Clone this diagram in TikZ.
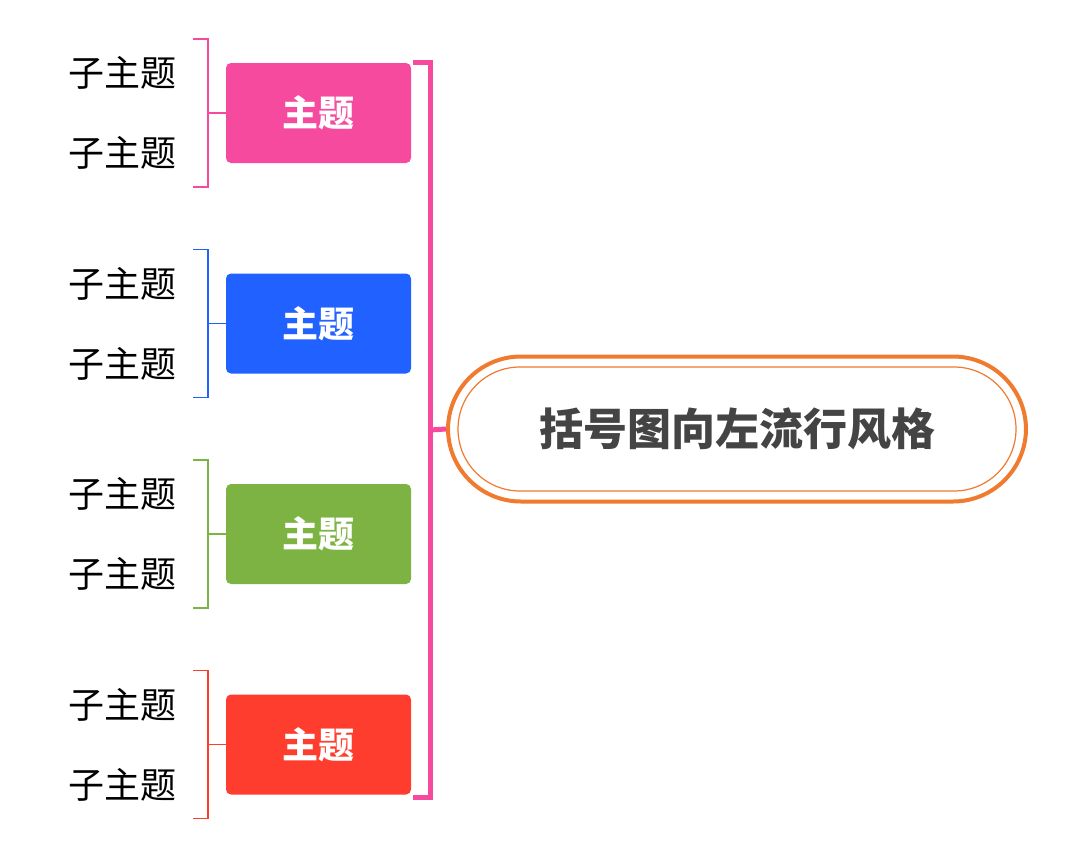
\documentclass[tikz,border=0pt]{standalone}
\usepackage{fontspec}
\setmainfont{Noto Sans CJK SC}
\definecolor{cpink}{HTML}{F64A9E}
\definecolor{cblue}{HTML}{2161FF}
\definecolor{cgreen}{HTML}{7DB342}
\definecolor{cred}{HTML}{FF3D2E}
\definecolor{corange}{HTML}{F07A2E}
\definecolor{cdark}{HTML}{444444}
\tikzset{
  topic/.style={fill=#1, rounded corners=5pt, minimum width=185pt, minimum height=100pt, inner sep=0pt, text=white, font=\fontsize{36}{40}\selectfont\bfseries},
  sub/.style={font=\fontsize{36}{40}\selectfont, text=black, inner sep=0pt},
  brk/.style={draw=#1, line width=1.3pt}
}
\begin{document}
\begin{tikzpicture}[x=1pt,y=-1pt]
\useasboundingbox (0,0) rectangle (1075,860);
% root
\node (root) [draw=corange, line width=4pt, rounded corners=73pt, minimum width=578pt, minimum height=145pt, fill=white] at (737,429) {};
\node (rootin) [draw=corange, line width=1.2pt, rounded corners=62pt, minimum width=558pt, minimum height=124pt] at (737,429) {};
\node (roottext) at (737,429) [text=cdark, font=\fontsize{44}{48}\selectfont\bfseries] {括号图向左流行风格};
% main bracket
\coordinate (bt) at (413,62); \coordinate (bb) at (413,797);
\draw[cpink, line width=5pt, line join=miter] (bt) -- (430,62) -- (430,797) -- (bb);
\coordinate (bm) at (430,430);
\draw[cpink, line width=5pt] (bm) -- (root.west);
\foreach \i/\c in {0/cpink,1/cblue,2/cgreen,3/cred}{
  \pgfmathsetmacro{\dy}{210.5*\i}
  \node (t\i) [topic=\c] at (318.5,113+\dy) {主题};
  \node (sa\i) [sub] at (122,73+\dy) {子主题};
  \node (sb\i) [sub] at (122,153+\dy) {子主题};
  \coordinate (ta\i) at (193,39+\dy);
  \coordinate (tb\i) at (193,187+\dy);
  \coordinate (tm\i) at (208,113+\dy);
  \draw[brk=\c] (ta\i) -- (208,39+\dy) -- (208,187+\dy) -- (tb\i);
  \draw[brk=\c] (tm\i) -- (t\i.west);
}
\end{tikzpicture}
\end{document}
